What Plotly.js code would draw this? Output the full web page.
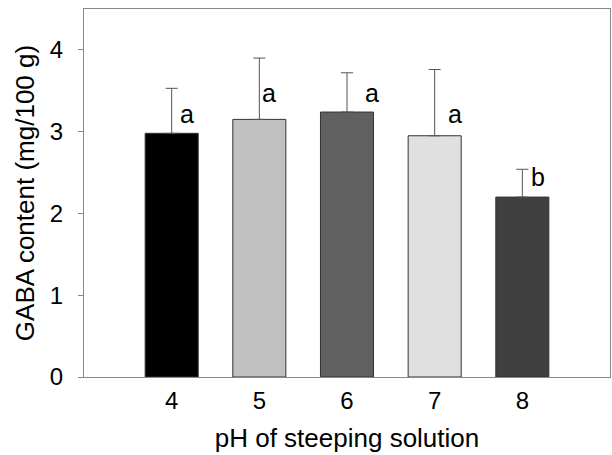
<!DOCTYPE html>
<html>
<head>
<meta charset="utf-8">
<script src="https://cdn.plot.ly/plotly-3.0.1.min.js"></script>
<style>html,body{margin:0;padding:0;background:#fff;}#chart{width:612px;height:455px;}</style>
</head>
<body>
<div id="chart"></div>
<script>
// Data
var phLevels = ['4', '5', '6', '7', '8'];
var gabaMean = [2.98, 3.15, 3.24, 2.95, 2.20];
var gabaSD = [0.55, 0.75, 0.48, 0.81, 0.34];
var sigLetters = ['a', 'a', 'a', 'a', 'b'];
var letterHeights = [3.22, 3.47, 3.47, 3.22, 2.45];

// Styling
var barColors = ['#000000', '#c0c0c0', '#606060', '#e0e0e0', '#404040'];
var letterShift = [15, 10, 25, 20, 16];
var FONT = 'Liberation Sans, Arial, sans-serif';

var trace = {
  type: 'bar',
  x: phLevels,
  y: gabaMean,
  width: 0.605,
  marker: {color: barColors, line: {color: '#333333', width: 1}},
  error_y: {type: 'data', array: gabaSD, symmetric: false, arrayminus: gabaSD.map(function(){return 0;}),
            color: '#555555', thickness: 1, width: 6},
  hoverinfo: 'none'
};

// category axis: annotation x given as category index
var annotations = sigLetters.map(function(t, i) {
  return {x: i, xref: 'x', y: letterHeights[i], yref: 'y', text: t, showarrow: false,
          xshift: letterShift[i], font: {family: FONT, size: 25, color: '#000'},
          xanchor: 'center', yanchor: 'middle'};
});

var layout = {
  width: 612, height: 455,
  margin: {l: 84, r: 2, t: 9, b: 78},
  paper_bgcolor: '#ffffff', plot_bgcolor: '#ffffff',
  showlegend: false,
  font: {family: FONT, color: '#000'},
  xaxis: {
    type: 'category', range: [-1, 5],
    showgrid: false, zeroline: false,
    showline: true, mirror: true, linecolor: '#888888', linewidth: 1,
    ticks: '', tickfont: {family: FONT, size: 24, color: '#000'},
    ticklabelstandoff: 2,
    title: {text: 'pH of steeping solution', font: {family: FONT, size: 26, color: '#000'}, standoff: 16}
  },
  yaxis: {
    range: [0, 4.5], tickvals: [0, 1, 2, 3, 4],
    showgrid: false, zeroline: false,
    showline: true, mirror: true, linecolor: '#888888', linewidth: 1,
    ticks: 'outside', ticklen: 5, tickcolor: '#888888', tickwidth: 1,
    tickfont: {family: FONT, size: 24, color: '#000'},
    ticklabelstandoff: 10,
    title: {text: 'GABA content (mg/100 g)', font: {family: FONT, size: 26, color: '#000'}, standoff: 7}
  },
  annotations: annotations
};

Plotly.newPlot('chart', [trace], layout, {staticPlot: true, displayModeBar: false});
</script>
</body>
</html>
